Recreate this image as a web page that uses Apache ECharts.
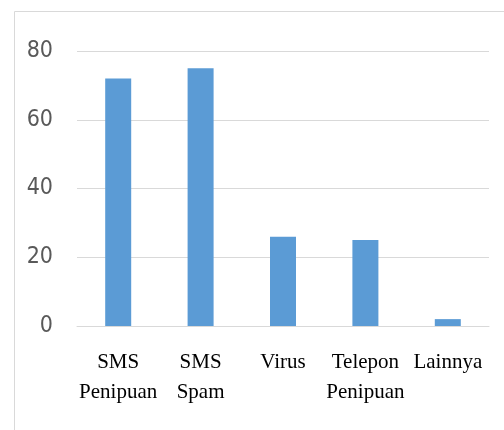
<!DOCTYPE html>
<html>
<head>
<meta charset="utf-8">
<script src="https://cdn.jsdelivr.net/npm/echarts@6/dist/echarts.min.js"></script>
<style>
  html, body { margin: 0; padding: 0; background: #fff; }
  #main { width: 504px; height: 430px; }
</style>
</head>
<body>
<div id="main"></div>
<script>
var categories = ['SMS\nPenipuan', 'SMS\nSpam', 'Virus', 'Telepon\nPenipuan', 'Lainnya'];
var values = [72, 75, 26, 25, 2];
var yTicks = [0, 20, 40, 60, 80];

var chart = echarts.init(document.getElementById('main'));
chart.setOption({
    animation: false,
    graphic: [{
        type: 'rect',
        shape: {x: 14.5, y: 11.5, width: 500, height: 430},
        style: {fill: 'none', stroke: '#d9d9d9', lineWidth: 1},
        silent: true
    }],
    grid: {left: 77, right: 15, top: 51, bottom: 104},
    xAxis: {
        type: 'category',
        data: categories,
        axisTick: {show: false},
        axisLine: {lineStyle: {color: '#d9d9d9'}},
        axisLabel: {
            interval: 0,
            hideOverlap: false,
            color: '#000',
            fontFamily: 'Liberation Serif',
            fontSize: 21,
            lineHeight: 30,
            margin: 21
        }
    },
    yAxis: {
        type: 'value',
        min: yTicks[0],
        max: yTicks[yTicks.length - 1],
        interval: 20,
        axisLine: {show: false},
        axisTick: {show: false},
        splitLine: {lineStyle: {color: '#d9d9d9'}},
        axisLabel: {
            color: '#595959',
            fontFamily: 'DejaVu Sans Condensed',
            fontSize: 23,
            margin: 24
        }
    },
    series: [{
        type: 'bar',
        data: values,
        barWidth: 26,
        itemStyle: {color: '#5b9bd5'}
    }]
});
</script>
</body>
</html>
